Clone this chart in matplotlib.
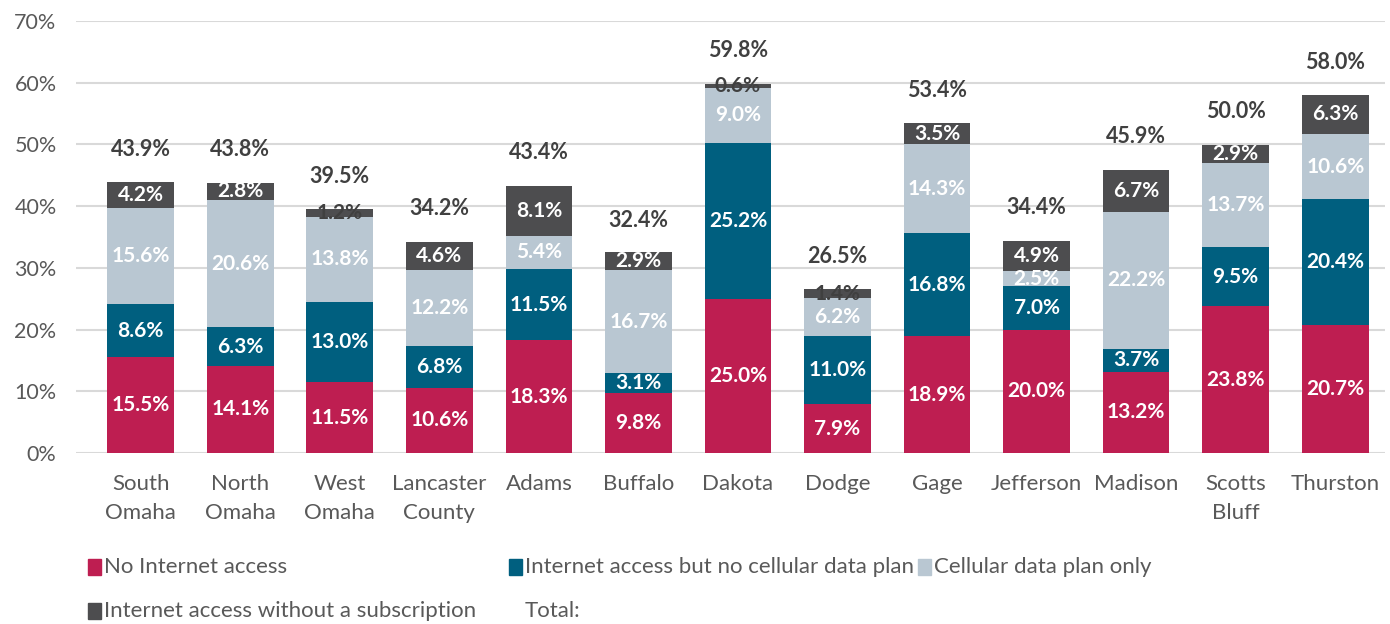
import numpy as np
import matplotlib
matplotlib.use("Agg")
import matplotlib.pyplot as plt
from matplotlib.patches import Rectangle

plt.rcParams['font.family'] = ['Lato', 'DejaVu Sans']

categories = ["South\nOmaha", "North\nOmaha", "West\nOmaha", "Lancaster\nCounty", "Adams",
              "Buffalo", "Dakota", "Dodge", "Gage", "Jefferson", "Madison", "Scotts\nBluff", "Thurston"]
no_internet = [15.5, 14.1, 11.5, 10.6, 18.3, 9.8, 25.0, 7.9, 18.9, 20.0, 13.2, 23.8, 20.7]
internet_no_cell = [8.6, 6.3, 13.0, 6.8, 11.5, 3.1, 25.2, 11.0, 16.8, 7.0, 3.7, 9.5, 20.4]
cell_only = [15.6, 20.6, 13.8, 12.2, 5.4, 16.7, 9.0, 6.2, 14.3, 2.5, 22.2, 13.7, 10.6]
no_subscription = [4.2, 2.8, 1.2, 4.6, 8.1, 2.9, 0.6, 1.4, 3.5, 4.9, 6.7, 2.9, 6.3]
totals = [43.9, 43.8, 39.5, 34.2, 43.4, 32.4, 59.8, 26.5, 53.4, 34.4, 45.9, 50.0, 58.0]

series_names = ["No Internet access", "Internet access but no cellular data plan",
                "Cellular data plan only", "Internet access without a subscription"]
colors = ["#BE1E51", "#005F7F", "#B9C7D2", "#4D4D4F"]
text_dark = "#404040"
tick_color = "#595959"

fig = plt.figure(figsize=(13.9, 6.24), dpi=100)
ax = fig.add_axes([76 / 1390, 1 - 453 / 624, (1385 - 76) / 1390, (453 - 21) / 624])

x = np.arange(len(categories))
width = 0.67
bottom = np.zeros(len(categories))
for name, vals, col in zip(series_names, [no_internet, internet_no_cell, cell_only, no_subscription], colors):
    vals = np.array(vals)
    ax.bar(x, vals, width, bottom=bottom, color=col, zorder=3, label=name)
    for xi, b, v in zip(x, bottom, vals):
        c = "white" if v >= 2.0 else text_dark
        ax.text(xi, b + v / 2, f"{v:.1f}%", ha="center", va="center", color=c,
                fontsize=15, fontweight="bold", zorder=4)
    bottom += vals

# totals above the stacks
for xi, t in zip(x, totals):
    ax.annotate(f"{t:.1f}%", (xi, t), xytext=(0, 33), textcoords="offset pixels",
                ha="center", va="center", color=text_dark, fontsize=15.5, fontweight="bold")

ax.set_ylim(0, 70)
ax.set_xlim(-0.65, 12.5)
ax.set_yticks(np.arange(0, 71, 10))
ax.set_yticklabels([f"{v}%" for v in range(0, 71, 10)], fontsize=15.5)
ax.set_xticks(x)
ax.set_xticklabels(categories, linespacing=1.55, fontsize=16)
ax.tick_params(axis="both", length=0, colors=tick_color)
ax.tick_params(axis="x", pad=15)
ax.tick_params(axis="y", pad=14)
ax.grid(axis="y", color="#D9D9D9", linewidth=1.5, zorder=0)
for s in ax.spines.values():
    s.set_visible(False)

# legend laid out like the original (two rows)
W, H = 1390, 624
legend_items = [(series_names[0], colors[0], 88, 567),
                (series_names[1], colors[1], 509, 567),
                (series_names[2], colors[2], 918, 567),
                (series_names[3], colors[3], 88, 611),
                ("Total:", None, 509, 611)]
for label, col, px, py in legend_items:
    if col is not None:
        fig.patches.append(Rectangle((px / W, 1 - (py + 8) / H), 13 / W, 16 / H,
                                     transform=fig.transFigure, color=col, figure=fig))
    fig.text((px + 16) / W, 1 - py / H, label, ha="left", va="center",
             fontsize=16, color=tick_color)

fig.savefig("out.png", dpi=100)
